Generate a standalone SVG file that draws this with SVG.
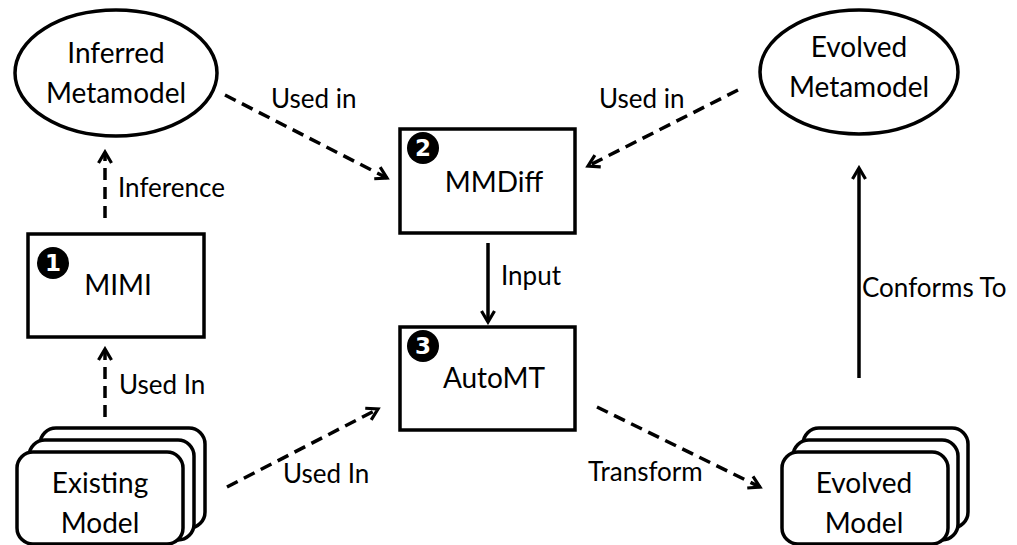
<svg xmlns="http://www.w3.org/2000/svg" width="1017" height="545" viewBox="0 0 1017 545">
  <style>
    .shape { fill: #fff; stroke: #000; stroke-width: 3.5; }
    .node-text { font-family: Lato, "Liberation Sans", sans-serif; font-size: 28px; fill: #000; text-anchor: middle; }
    .label { font-family: Lato, "Liberation Sans", sans-serif; font-size: 26px; fill: #000; }
    .badge { fill: #000; }
    .badge-text { font-family: "DejaVu Sans", sans-serif; font-weight: bold; font-size: 23px; fill: #fff; text-anchor: middle; }
    .edge { fill: none; stroke: #000; stroke-width: 3.5; }
    .dashed { stroke-dasharray: 12 7; }
  </style>
  <defs>
    <marker id="chevron" viewBox="0 0 16 16" refX="13" refY="8" markerWidth="16" markerHeight="16" markerUnits="userSpaceOnUse" orient="auto">
      <path d="M2,1.5 L13,8 L2,14.5" fill="none" stroke="#000" stroke-width="3.2" stroke-linejoin="miter"/>
    </marker>
  </defs>

  <rect width="1017" height="545" fill="#fff"/>

  <!-- connectors -->
  <g id="connectors">
    <path class="edge dashed" d="M105,218 L105,152" marker-end="url(#chevron)"/>
    <path class="edge dashed" d="M105,417 L105,349" marker-end="url(#chevron)"/>
    <path class="edge dashed" d="M225,95 L387,178" marker-end="url(#chevron)"/>
    <path class="edge dashed" d="M738,90 L588,166" marker-end="url(#chevron)"/>
    <path class="edge" d="M488,243 L488,322" marker-end="url(#chevron)"/>
    <path class="edge dashed" d="M227,487 L378,409" marker-end="url(#chevron)"/>
    <path class="edge dashed" d="M597,407 L760,487" marker-end="url(#chevron)"/>
    <path class="edge" d="M859,378 L859,168" marker-end="url(#chevron)"/>

    <text class="label" x="118" y="197">Inference</text>
    <text class="label" x="119" y="394">Used In</text>
    <text class="label" x="271" y="108">Used in</text>
    <text class="label" x="599" y="108">Used in</text>
    <text class="label" x="501" y="285">Input</text>
    <text class="label" x="283" y="483">Used In</text>
    <text class="label" x="588" y="481">Transform</text>
    <text class="label" x="862" y="297">Conforms To</text>
  </g>

  <!-- Inferred Metamodel -->
  <g id="inferred-metamodel">
    <ellipse class="shape" cx="116" cy="73" rx="101" ry="63"/>
    <text class="node-text" x="116" y="63">Inferred</text>
    <text class="node-text" x="116" y="103">Metamodel</text>
  </g>

  <!-- Evolved Metamodel -->
  <g id="evolved-metamodel">
    <ellipse class="shape" cx="859" cy="72" rx="99" ry="62"/>
    <text class="node-text" x="859" y="57">Evolved</text>
    <text class="node-text" x="859" y="97">Metamodel</text>
  </g>

  <!-- MIMI -->
  <g id="mimi">
    <rect class="shape" x="28" y="234" width="176" height="103"/>
    <circle class="badge" cx="53" cy="263" r="16"/>
    <text class="badge-text" x="53" y="271">1</text>
    <text class="node-text" x="118" y="295">MIMI</text>
  </g>

  <!-- MMDiff -->
  <g id="mmdiff">
    <rect class="shape" x="400" y="129" width="175" height="104"/>
    <circle class="badge" cx="423" cy="148" r="16"/>
    <text class="badge-text" x="423" y="156">2</text>
    <text class="node-text" x="494" y="192">MMDiff</text>
  </g>

  <!-- AutoMT -->
  <g id="automt">
    <rect class="shape" x="400" y="327" width="175" height="103"/>
    <circle class="badge" cx="423" cy="346" r="16"/>
    <text class="badge-text" x="423" y="354">3</text>
    <text class="node-text" x="494" y="388">AutoMT</text>
  </g>

  <!-- Existing Model (stack of three) -->
  <g id="existing-model">
    <rect class="shape" x="40" y="428" width="165" height="100" rx="16"/>
    <rect class="shape" x="29" y="440" width="165" height="100" rx="16"/>
    <rect class="shape" x="17" y="452" width="166" height="92" rx="16"/>
    <text class="node-text" x="100" y="493">Existing</text>
    <text class="node-text" x="100" y="533">Model</text>
  </g>

  <!-- Evolved Model (stack of three) -->
  <g id="evolved-model">
    <rect class="shape" x="803" y="428" width="165" height="100" rx="16"/>
    <rect class="shape" x="793" y="440" width="165" height="100" rx="16"/>
    <rect class="shape" x="782" y="452" width="166" height="92" rx="16"/>
    <text class="node-text" x="864" y="493">Evolved</text>
    <text class="node-text" x="864" y="533">Model</text>
  </g>
</svg>
